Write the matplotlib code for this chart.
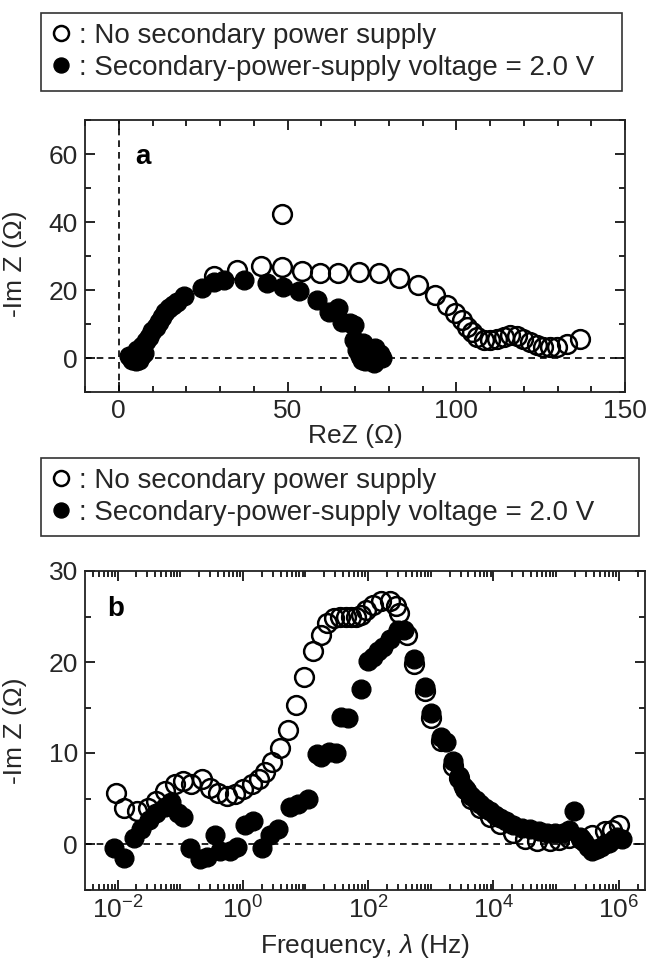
import numpy as np
import matplotlib
matplotlib.use("Agg")
import matplotlib.pyplot as plt
from matplotlib.ticker import MultipleLocator, FixedLocator, LogLocator, NullFormatter

plt.rcParams['font.family'] = ['Liberation Sans', 'DejaVu Sans']
plt.rcParams['mathtext.fontset'] = 'custom'
plt.rcParams['mathtext.rm'] = 'Liberation Sans'
plt.rcParams['mathtext.it'] = 'Liberation Sans:italic'
plt.rcParams['mathtext.bf'] = 'Liberation Sans:bold'

TXT = '#262626'
FS = 19

# ---- panel a: Nyquist plot, ReZ vs -ImZ (ohm) ----
re_open = [28.2, 35.0, 42.0, 48.4, 48.4, 54.3, 59.7, 65.1, 71.1, 77.0, 82.9,
           88.8, 93.8, 97.2, 99.7, 101.7, 103.1, 104.6, 106.1, 108.1, 110.0,
           112.0, 114.0, 116.0, 118.0, 119.9, 121.9, 123.9, 125.8, 127.8,
           129.8, 132.7, 136.7]
im_open = [24.0, 26.0, 27.0, 26.7, 42.3, 25.5, 25.0, 25.0, 25.3, 25.0, 23.5,
           21.5, 18.6, 15.6, 13.1, 11.2, 9.2, 7.7, 6.2, 5.4, 5.2,
           5.7, 6.2, 6.7, 6.4, 5.7, 4.7, 3.8, 3.3, 3.3,
           3.3, 4.1, 5.7]

re_filled = [3.0, 4.0, 5.0, 6.0, 4.5, 5.4, 6.5, 7.0, 7.5, 8.0, 8.9, 9.8,
             10.9, 11.8, 12.8, 13.8, 14.8, 16.0, 17.3, 19.2, 24.7, 28.1,
             31.1, 37.0, 43.9, 48.8, 53.3, 58.7, 62.2, 65.1, 66.1, 68.6,
             69.6, 69.6, 70.6, 72.5, 71.5, 73.0, 74.5, 75.5, 76.5, 77.5,
             76.0, 73.5, 72.0, 78.0]
im_filled = [0.5, -0.5, -1.0, -0.5, 1.0, 2.5, 0.5, 3.5, 1.5, 5.0, 6.2, 7.8,
             9.2, 10.7, 12.1, 13.4, 14.6, 15.7, 16.6, 18.1, 20.6, 22.5,
             23.0, 23.0, 22.0, 21.0, 19.6, 17.1, 13.6, 14.6, 10.7, 10.2,
             9.7, 5.2, 2.3, 4.3, 0.5, -1.0, 0.3, -1.5, 1.5, 1.3,
             3.0, 2.0, -0.5, 0.0]

# ---- panel b: -ImZ vs frequency (log10 of Hz) ----
logf_open = [-2.02, -1.89, -1.69, -1.52, -1.39, -1.25, -1.09, -0.95, -0.82,
             -0.65, -0.52, -0.39, -0.25, -0.12, 0.01, 0.15, 0.25, 0.36, 0.47,
             0.60, 0.72, 0.85, 0.97, 1.12, 1.25, 1.35, 1.45, 1.55, 1.65, 1.73,
             1.81, 1.89, 1.97, 2.08, 2.21, 2.35, 2.45, 2.50, 2.62, 2.74, 2.90,
             3.01, 3.17, 3.36, 3.45, 3.55, 3.65, 3.78, 3.95, 4.11, 4.31, 4.50,
             4.70, 4.90, 5.05, 5.21, 5.40, 5.58, 5.78, 5.90, 6.01]
imf_open = [5.6, 4.0, 3.6, 4.0, 4.7, 5.8, 6.6, 6.9, 6.6,
            7.1, 6.2, 5.6, 5.3, 5.5, 6.0, 6.6, 7.1, 7.9, 9.0,
            10.5, 12.5, 15.3, 18.3, 21.2, 23.0, 24.3, 24.8, 25.0, 25.0, 25.0,
            25.0, 25.2, 25.7, 26.3, 26.7, 26.7, 26.1, 25.4, 23.0, 19.8, 16.8,
            13.9, 11.3, 8.6, 7.2, 6.0, 5.0, 4.0, 3.0, 2.2, 1.2, 0.6,
            0.3, 0.3, 0.4, 0.7, 0.6, 1.0, 1.4, 1.5, 2.1]

logf_filled = [-2.05, -1.89, -1.73, -1.62, -1.50, -1.38, -1.25, -1.15, -1.04,
               -0.96, -0.85, -0.69, -0.58, -0.45, -0.37, -0.21, -0.10, 0.03,
               0.16, 0.30, 0.43, 0.56, 0.76, 0.88, 1.04, 1.18, 1.25, 1.38,
               1.49, 1.57, 1.68, 1.89, 2.00, 2.08, 2.16, 2.24, 2.35, 2.48,
               2.58, 2.74, 2.90, 3.01, 3.17, 3.25, 3.36, 3.45, 3.51, 3.58,
               3.65, 3.72, 3.78, 3.87, 3.95, 4.03, 4.11, 4.20, 4.31, 4.45,
               4.58, 4.72, 4.85, 4.98, 5.11, 5.20, 5.28, 5.38, 5.45, 5.51,
               5.58, 5.65, 5.71, 5.78, 5.85, 5.92, 5.98, 6.05]
imf_filled = [-0.4, -1.5, 0.7, 1.6, 2.6, 3.4, 4.1, 4.6, 3.4,
              3.0, -0.4, -1.7, -1.4, 1.0, -0.8, -0.8, -0.3, 2.1,
              2.5, -0.4, 1.0, 1.6, 4.1, 4.4, 4.9, 9.9, 9.6, 10.1,
              10.0, 14.0, 13.8, 17.0, 20.1, 20.6, 21.2, 21.7, 22.5, 23.5,
              23.5, 20.3, 17.3, 14.4, 11.8, 11.2, 9.1, 7.5, 6.4, 5.8,
              5.3, 4.8, 4.4, 4.0, 3.6, 3.2, 2.9, 2.5, 2.1, 1.8,
              1.6, 1.4, 1.2, 1.2, 1.2, 1.5, 3.6, 0.8, 0.2, -0.3,
              -0.8, -0.5, -0.3, 0.0, 0.1, 0.5, 0.8, 0.5]

labels = [': No secondary power supply',
          ': Secondary-power-supply voltage = 2.0 V']

freq_open = 10.0 ** np.array(logf_open)
freq_filled = 10.0 ** np.array(logf_filled)

fig = plt.figure(figsize=(6.5, 9.65), dpi=100)

ax1 = fig.add_axes([85/650, 1 - 392/965, 540/650, 272/965])
ax2 = fig.add_axes([85/650, 1 - 889.5/965, 560/650, 318.5/965])

mk_open = dict(ls='none', marker='o', ms=13.5, mew=1.8, mec='black', mfc='none', zorder=3)
mk_fill = dict(ls='none', marker='o', ms=13.5, mew=1.0, mec='black', mfc='black', zorder=4)
dash = dict(color='black', lw=1.2, dashes=(4, 3), zorder=1)

# panel a
h_open, = ax1.plot(re_open, im_open, **mk_open)
h_fill, = ax1.plot(re_filled, im_filled, **mk_fill)
ax1.axhline(0, **dash)
ax1.axvline(0, **dash)
ax1.set_xlim(-10, 150)
ax1.set_ylim(-10, 70)
ax1.xaxis.set_major_locator(FixedLocator([0, 50, 100, 150]))
ax1.xaxis.set_minor_locator(MultipleLocator(10))
ax1.yaxis.set_major_locator(FixedLocator([0, 20, 40, 60]))
ax1.yaxis.set_minor_locator(MultipleLocator(10))
ax1.set_xlabel('ReZ (Ω)', fontsize=FS, color=TXT, labelpad=1)
ax1.set_ylabel('-Im Z (Ω)', fontsize=FS, color=TXT)
ax1.yaxis.set_label_coords(-0.107, 0.47)
ax1.text(0.107, 0.864, 'a', transform=ax1.transAxes, fontsize=FS + 1,
         fontweight='bold', ha='center', va='center', color='black')

# panel b
ax2.plot(freq_open, imf_open, **mk_open)
ax2.plot(freq_filled, imf_filled, **mk_fill)
ax2.axhline(0, **dash)
ax2.set_xscale('log')
ax2.set_xlim(10 ** -2.52, 10 ** 6.42)
ax2.set_ylim(-5, 30)
ax2.xaxis.set_major_locator(FixedLocator([1e-2, 1e0, 1e2, 1e4, 1e6]))
ax2.set_xticklabels(['$10^{-2}$', '$10^{0}$', '$10^{2}$', '$10^{4}$', '$10^{6}$'])
ax2.xaxis.set_minor_locator(LogLocator(base=10, subs=np.arange(1, 10), numticks=20))
ax2.xaxis.set_minor_formatter(NullFormatter())
ax2.yaxis.set_major_locator(FixedLocator([0, 10, 20, 30]))
ax2.yaxis.set_minor_locator(MultipleLocator(5))
ax2.set_xlabel('Frequency, $\\lambda$ (Hz)', fontsize=FS, color=TXT, labelpad=6)
ax2.set_ylabel('-Im Z (Ω)', fontsize=FS, color=TXT)
ax2.yaxis.set_label_coords(-0.104, 0.5)
ax2.text(0.055, 0.881, 'b', transform=ax2.transAxes, fontsize=FS + 1,
         fontweight='bold', ha='center', va='center', color='black')

for ax in (ax1, ax2):
    ax.tick_params(which='both', direction='in', top=True, right=True,
                   labelsize=FS, labelcolor=TXT, pad=5, width=1.2)
    ax.tick_params(which='major', length=7)
    ax.tick_params(which='minor', length=4)
    for s in ax.spines.values():
        s.set_linewidth(1.3)
        s.set_color('#222222')

# legend boxes above each panel
for top, right in ((13, 622), (458, 639)):
    leg = fig.legend([h_open, h_fill], labels, loc='upper left',
                     bbox_to_anchor=(41/650, 1 - top/965, (right - 41)/650, 0),
                     bbox_transform=fig.transFigure, mode='expand',
                     borderaxespad=0, borderpad=0.36, labelspacing=0.2,
                     handlelength=0.75, handletextpad=0.25, fontsize=FS + 1,
                     markerscale=0.8, frameon=True, fancybox=False,
                     edgecolor='#333333', framealpha=1)
    leg.get_frame().set_linewidth(1.2)
    for t in leg.get_texts():
        t.set_color(TXT)

fig.savefig('out.png', dpi=100)
